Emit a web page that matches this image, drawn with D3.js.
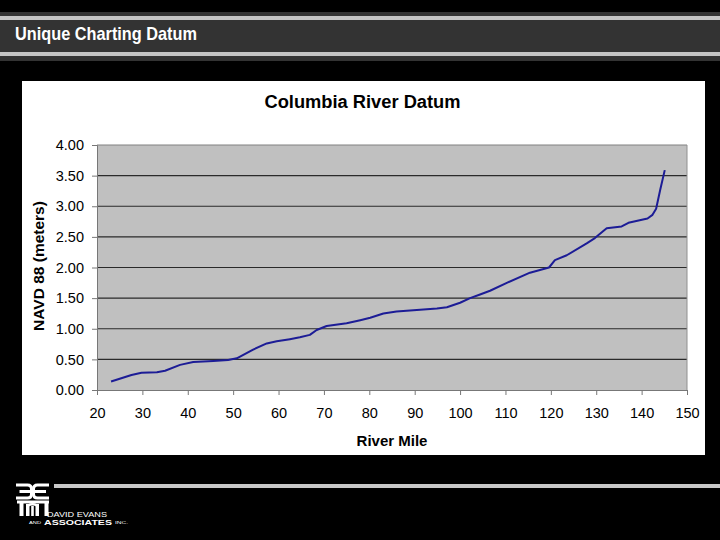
<!DOCTYPE html>
<html><head><meta charset="utf-8">
<script src="https://cdn.jsdelivr.net/npm/d3@7"></script>
<style>html,body{margin:0;padding:0;background:#000;}svg{display:block;}</style>
</head><body>
<svg id="c" width="720" height="540"></svg>
<script>
const slideTitle = "Unique Charting Datum";
const chartTitle = "Columbia River Datum";
const xLabel = "River Mile";
const yLabel = "NAVD 88 (meters)";
const riverMiles = [23.1, 27.6, 29.8, 33.2, 35, 38.3, 41.2, 45.6, 48.9, 50.8, 54.4, 57.4, 59.6, 62.5, 64.7, 66.9, 68.4, 70.6, 75, 78, 80.2, 83.1, 86, 91.2, 94.9, 97.1, 100, 102.2, 104.4, 106.6, 110.3, 115.4, 119.6, 120.9, 123.5, 127.9, 129.7, 132.3, 135.6, 137.1, 141.3, 142.4, 143.2, 144.1, 145.1];
const datumMeters = [0.14, 0.245, 0.28, 0.29, 0.315, 0.41, 0.457, 0.473, 0.49, 0.517, 0.66, 0.76, 0.795, 0.83, 0.86, 0.9, 0.98, 1.045, 1.09, 1.14, 1.18, 1.25, 1.28, 1.31, 1.33, 1.35, 1.425, 1.5, 1.56, 1.62, 1.75, 1.915, 2.0, 2.12, 2.2, 2.395, 2.48, 2.64, 2.67, 2.73, 2.8, 2.86, 2.96, 3.27, 3.59];
const xTicks = [20, 30, 40, 50, 60, 70, 80, 90, 100, 110, 120, 130, 140, 150];
const yTicks = [0, 0.5, 1, 1.5, 2, 2.5, 3, 3.5, 4];

const svg = d3.select("#c");
const font = "'Liberation Sans', Arial, sans-serif";

// header band
svg.append("rect").attr("x",0).attr("y",12).attr("width",720).attr("height",49).attr("fill","#333");
svg.append("rect").attr("x",0).attr("y",16).attr("width",720).attr("height",4).attr("fill","#c4c4c4");
svg.append("rect").attr("x",0).attr("y",52).attr("width",720).attr("height",4).attr("fill","#c4c4c4");
svg.append("text").attr("x",15).attr("y",40).text(slideTitle)
  .attr("fill","#fff").attr("font-family",font).attr("font-weight","bold").attr("font-size",19)
  .attr("textLength",182).attr("lengthAdjust","spacingAndGlyphs");

// chart panel
svg.append("rect").attr("x",22).attr("y",81).attr("width",683).attr("height",374).attr("fill","#fff");

const m = {l:97, r:687, t:145, b:390};
const x = d3.scaleLinear().domain([20,150]).range([m.l,m.r]);
const y = d3.scaleLinear().domain([0,4]).range([m.b,m.t]);

svg.append("rect").attr("x",m.l).attr("y",m.t).attr("width",m.r-m.l).attr("height",m.b-m.t).attr("fill","#c0c0c0");

// gridlines
svg.append("g").selectAll("line").data(yTicks.filter(d=>d>0 && d<4)).join("line")
  .attr("x1",m.l).attr("x2",m.r).attr("y1",d=>y(d)).attr("y2",d=>y(d))
  .attr("stroke","#2a2a2a").attr("stroke-width",1.2);
// top and right border
svg.append("line").attr("x1",m.l).attr("x2",m.r).attr("y1",m.t).attr("y2",m.t).attr("stroke","#808080");
svg.append("line").attr("x1",m.r).attr("x2",m.r).attr("y1",m.t).attr("y2",m.b).attr("stroke","#909090");

// axes
const yAxis = svg.append("g").attr("transform",`translate(${m.l},0)`)
  .call(d3.axisLeft(y).tickValues(yTicks).tickFormat(d3.format(".2f")).tickSizeOuter(0).tickSize(5).tickPadding(8));
const xAxis = svg.append("g").attr("transform",`translate(0,${m.b})`)
  .call(d3.axisBottom(x).tickValues(xTicks).tickFormat(d3.format("d")).tickSizeOuter(0).tickSize(5).tickPadding(13));
[yAxis,xAxis].forEach(g=>{
  g.select(".domain").attr("stroke","#777");
  g.selectAll(".tick line").attr("stroke","#777");
  g.selectAll("text").attr("fill","#000").attr("font-family",font).attr("font-size",14.5);
});

// line
const line = d3.line().x((d,i)=>x(riverMiles[i])).y(d=>y(d));
svg.append("path").datum(datumMeters).attr("d",line).attr("fill","none")
  .attr("stroke","#1c1c96").attr("stroke-width",2).attr("stroke-linejoin","round");

// titles
svg.append("text").attr("x",362.5).attr("y",108).attr("text-anchor","middle").text(chartTitle)
  .attr("font-family",font).attr("font-weight","bold").attr("font-size",18.3).attr("fill","#000");
svg.append("text").attr("x",392).attr("y",446).attr("text-anchor","middle").text(xLabel)
  .attr("font-family",font).attr("font-weight","bold").attr("font-size",15).attr("fill","#000");
svg.append("text").attr("transform","translate(44,266) rotate(-90)").attr("text-anchor","middle").text(yLabel)
  .attr("font-family",font).attr("font-weight","bold").attr("font-size",15.5).attr("fill","#000");

// footer line
svg.append("rect").attr("x",54).attr("y",484).attr("width",666).attr("height",4).attr("fill","#c8c8c8");

// logo
const lg = svg.append("g").attr("fill","none").attr("stroke","#fff").attr("stroke-width",3);
lg.append("path").attr("d","M16,485 H27.5 Q31.5,485 31.5,489 V494 Q31.5,498 27.5,498 H16 M19.5,491.5 H31.5");
lg.append("path").attr("d","M49,485 H37.5 Q33.5,485 33.5,489 V494 Q33.5,498 37.5,498 H49 M33.5,491.5 H46");
lg.append("path").attr("d","M17,502 H49");
const lf = svg.append("g").attr("fill","#fff");
[[19.5,501,4,15],[26,504,3.5,12],[35.5,504,3.5,12],[44.5,501,4,15]].forEach(r=>
  lf.append("rect").attr("x",r[0]).attr("y",r[1]).attr("width",r[2]).attr("height",r[3]));
lg.append("path").attr("d","M28,505.5 Q32.5,503 37,505.5").attr("stroke-width",2.5);
lf.append("rect").attr("x",31.2).attr("y",506).attr("width",2.6).attr("height",10);
svg.append("text").attr("x",47).attr("y",516.5).text("DAVID EVANS").attr("fill","#fff")
  .attr("font-family",font).attr("font-size",7).attr("textLength",60).attr("lengthAdjust","spacingAndGlyphs");
svg.append("text").attr("x",29).attr("y",524).text("AND").attr("fill","#fff")
  .attr("font-family",font).attr("font-size",4).attr("textLength",12).attr("lengthAdjust","spacingAndGlyphs");
svg.append("text").attr("x",44).attr("y",525).text("ASSOCIATES").attr("fill","#fff")
  .attr("font-family",font).attr("font-weight","bold").attr("font-size",7).attr("textLength",68).attr("lengthAdjust","spacingAndGlyphs");
svg.append("text").attr("x",115).attr("y",524).text("INC.").attr("fill","#fff")
  .attr("font-family",font).attr("font-size",4).attr("textLength",13).attr("lengthAdjust","spacingAndGlyphs");
</script>
</body></html>
